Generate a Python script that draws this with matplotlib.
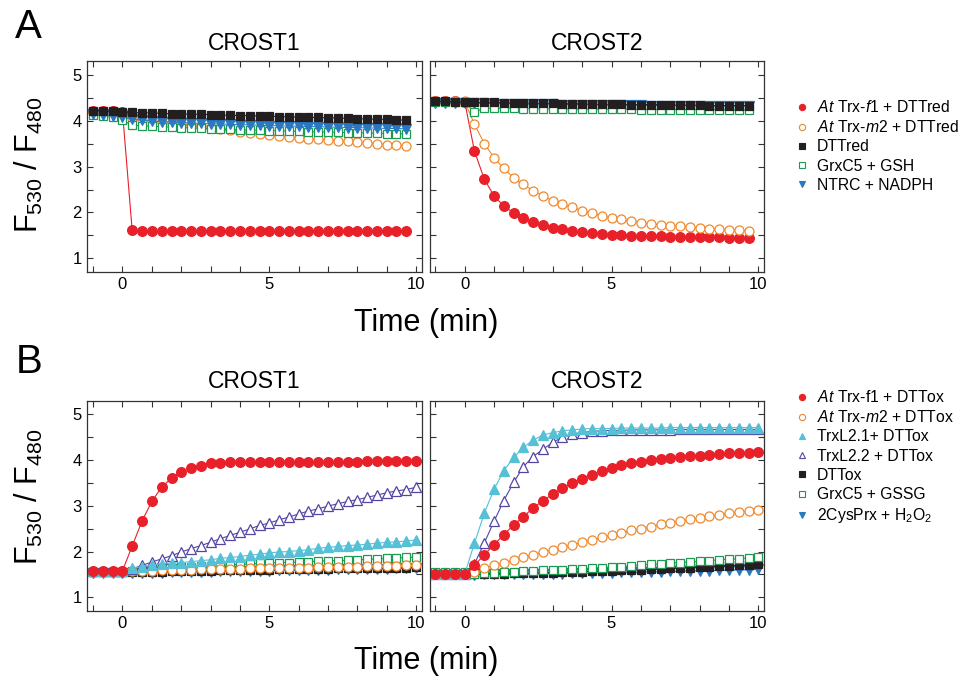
import matplotlib
matplotlib.use("Agg")
import matplotlib.pyplot as plt
from matplotlib.lines import Line2D
from matplotlib.ticker import MultipleLocator

plt.rcParams['font.family'] = ['Liberation Sans', 'DejaVu Sans']
plt.rcParams['mathtext.fontset'] = 'custom'
plt.rcParams['mathtext.rm'] = 'Liberation Sans'
plt.rcParams['mathtext.it'] = 'Liberation Sans:italic'
plt.rcParams['mathtext.bf'] = 'Liberation Sans:bold'

# time points (min), 20 s sampling
time_a = [-1.0, -0.67, -0.33, 0.0, 0.33, 0.67, 1.0, 1.33, 1.67, 2.0, 2.33, 2.67,
          3.0, 3.33, 3.67, 4.0, 4.33, 4.67, 5.0, 5.33, 5.67, 6.0, 6.33, 6.67,
          7.0, 7.33, 7.67, 8.0, 8.33, 8.67, 9.0, 9.33, 9.67]
time_b = time_a + [10.0]

# ---- panel A, CROST1 (reduction)
a1_trx_f1 = [4.20, 4.20, 4.20, 4.19, 1.61, 1.60, 1.60, 1.60, 1.60, 1.60, 1.60,
             1.60, 1.60, 1.60, 1.60, 1.60, 1.60, 1.60, 1.60, 1.60, 1.60, 1.60,
             1.60, 1.60, 1.60, 1.60, 1.60, 1.60, 1.60, 1.60, 1.60, 1.60, 1.60]
a1_trx_m2 = [4.18, 4.16, 4.14, 4.10, 4.05, 4.02, 3.99, 3.97, 3.95, 3.93, 3.90,
             3.88, 3.85, 3.82, 3.79, 3.76, 3.73, 3.71, 3.69, 3.67, 3.65, 3.63,
             3.61, 3.60, 3.58, 3.56, 3.55, 3.53, 3.52, 3.50, 3.48, 3.47, 3.45]
a1_dtt = [4.22, 4.21, 4.20, 4.19, 4.18, 4.17, 4.17, 4.16, 4.15, 4.15, 4.14,
          4.14, 4.13, 4.12, 4.12, 4.11, 4.11, 4.10, 4.10, 4.09, 4.08, 4.08,
          4.07, 4.07, 4.06, 4.06, 4.05, 4.04, 4.04, 4.03, 4.03, 4.02, 4.01]
a1_grx = [4.12, 4.10, 4.07, 4.01, 3.90, 3.89, 3.88, 3.87, 3.86, 3.85, 3.84,
          3.83, 3.82, 3.82, 3.81, 3.80, 3.80, 3.79, 3.78, 3.78, 3.77, 3.77,
          3.76, 3.76, 3.75, 3.75, 3.74, 3.74, 3.73, 3.73, 3.72, 3.72, 3.71]
a1_ntrc = [4.15, 4.13, 4.11, 4.08, 4.03, 4.01, 3.99, 3.98, 3.97, 3.96, 3.95,
           3.94, 3.93, 3.93, 3.92, 3.91, 3.91, 3.90, 3.89, 3.89, 3.88, 3.88,
           3.87, 3.87, 3.86, 3.86, 3.85, 3.85, 3.84, 3.84, 3.83, 3.83, 3.82]

# ---- panel A, CROST2
a2_trx_f1 = [4.42, 4.42, 4.42, 4.41, 3.34, 2.72, 2.36, 2.14, 1.99, 1.87, 1.80,
             1.72, 1.67, 1.63, 1.60, 1.57, 1.55, 1.53, 1.52, 1.50, 1.49, 1.49,
             1.48, 1.48, 1.47, 1.47, 1.47, 1.46, 1.46, 1.46, 1.45, 1.45, 1.45]
a2_trx_m2 = [4.43, 4.43, 4.43, 4.42, 3.92, 3.50, 3.19, 2.96, 2.75, 2.61, 2.47,
             2.36, 2.25, 2.18, 2.11, 2.04, 1.98, 1.93, 1.88, 1.85, 1.81, 1.78,
             1.75, 1.73, 1.71, 1.70, 1.68, 1.67, 1.65, 1.64, 1.62, 1.61, 1.60]
a2_dtt = [4.42, 4.42, 4.41, 4.41, 4.40, 4.40, 4.40, 4.39, 4.39, 4.39, 4.38,
          4.38, 4.38, 4.37, 4.37, 4.37, 4.36, 4.36, 4.36, 4.36, 4.35, 4.35,
          4.35, 4.35, 4.34, 4.34, 4.34, 4.34, 4.33, 4.33, 4.33, 4.33, 4.33]
a2_grx = [4.41, 4.41, 4.40, 4.40, 4.19, 4.27, 4.27, 4.27, 4.27, 4.26, 4.26,
          4.26, 4.26, 4.26, 4.25, 4.25, 4.25, 4.25, 4.25, 4.25, 4.25, 4.24,
          4.24, 4.24, 4.24, 4.24, 4.24, 4.24, 4.24, 4.24, 4.23, 4.23, 4.23]
a2_ntrc = [4.39, 4.39, 4.39, 4.38, 4.38, 4.38, 4.37, 4.37, 4.37, 4.36, 4.36,
           4.36, 4.36, 4.35, 4.35, 4.35, 4.35, 4.34, 4.34, 4.34, 4.34, 4.34,
           4.33, 4.33, 4.33, 4.33, 4.33, 4.32, 4.32, 4.32, 4.32, 4.32, 4.32]

# ---- panel B, CROST1 (oxidation)
b1_trx_f1 = [1.57, 1.57, 1.57, 1.58, 2.12, 2.67, 3.09, 3.40, 3.60, 3.74, 3.83,
             3.87, 3.92, 3.93, 3.94, 3.95, 3.95, 3.95, 3.96, 3.96, 3.96, 3.96,
             3.96, 3.96, 3.96, 3.96, 3.96, 3.96, 3.97, 3.97, 3.97, 3.97, 3.97, 3.97]
b1_trx_m2 = [1.56, 1.56, 1.56, 1.57, 1.57, 1.58, 1.58, 1.59, 1.59, 1.60, 1.60,
             1.61, 1.61, 1.62, 1.62, 1.62, 1.63, 1.63, 1.64, 1.64, 1.65, 1.65,
             1.65, 1.66, 1.66, 1.67, 1.67, 1.67, 1.68, 1.68, 1.69, 1.69, 1.70, 1.70]
b1_trxl21 = [1.57, 1.57, 1.57, 1.57, 1.64, 1.67, 1.71, 1.73, 1.75, 1.76, 1.78,
             1.80, 1.82, 1.85, 1.87, 1.89, 1.92, 1.94, 1.97, 1.99, 2.00, 2.02,
             2.04, 2.07, 2.09, 2.11, 2.13, 2.14, 2.16, 2.18, 2.20, 2.21, 2.23, 2.25]
b1_trxl22 = [1.57, 1.57, 1.57, 1.57, 1.62, 1.70, 1.77, 1.84, 1.91, 1.99, 2.06,
             2.13, 2.20, 2.28, 2.35, 2.42, 2.49, 2.57, 2.62, 2.69, 2.75, 2.82,
             2.88, 2.93, 2.99, 3.04, 3.09, 3.13, 3.18, 3.23, 3.28, 3.32, 3.35, 3.40]
b1_dtt = [1.55, 1.55, 1.55, 1.55, 1.55, 1.55, 1.56, 1.56, 1.57, 1.57, 1.57,
          1.58, 1.58, 1.59, 1.59, 1.59, 1.60, 1.60, 1.60, 1.61, 1.61, 1.61,
          1.62, 1.62, 1.62, 1.63, 1.63, 1.63, 1.64, 1.64, 1.64, 1.65, 1.65, 1.66]
b1_grx = [1.55, 1.55, 1.56, 1.56, 1.58, 1.60, 1.62, 1.63, 1.65, 1.66, 1.67,
          1.68, 1.69, 1.70, 1.71, 1.72, 1.73, 1.74, 1.75, 1.76, 1.76, 1.77,
          1.78, 1.79, 1.80, 1.80, 1.81, 1.82, 1.83, 1.84, 1.85, 1.86, 1.87, 1.88]
b1_prx = [1.53, 1.53, 1.53, 1.53, 1.53, 1.53, 1.54, 1.54, 1.55, 1.55, 1.55,
          1.56, 1.56, 1.57, 1.57, 1.57, 1.58, 1.58, 1.58, 1.59, 1.59, 1.59,
          1.60, 1.60, 1.60, 1.61, 1.61, 1.61, 1.62, 1.62, 1.62, 1.63, 1.63, 1.64]

# ---- panel B, CROST2
b2_trx_f1 = [1.51, 1.51, 1.51, 1.51, 1.70, 1.93, 2.15, 2.37, 2.58, 2.76, 2.95,
             3.11, 3.25, 3.38, 3.49, 3.59, 3.67, 3.76, 3.82, 3.88, 3.92, 3.96,
             3.99, 4.02, 4.04, 4.07, 4.08, 4.09, 4.11, 4.12, 4.14, 4.14, 4.15, 4.16]
b2_trx_m2 = [1.52, 1.52, 1.52, 1.52, 1.55, 1.64, 1.70, 1.75, 1.82, 1.88, 1.93,
             1.99, 2.04, 2.09, 2.15, 2.20, 2.25, 2.31, 2.36, 2.41, 2.46, 2.49,
             2.54, 2.59, 2.62, 2.66, 2.70, 2.73, 2.77, 2.80, 2.83, 2.86, 2.88, 2.91]
b2_trxl21 = [1.51, 1.51, 1.51, 1.51, 2.18, 2.84, 3.36, 3.76, 4.05, 4.27, 4.43,
             4.54, 4.59, 4.63, 4.65, 4.67, 4.68, 4.68, 4.68, 4.69, 4.69, 4.69,
             4.69, 4.69, 4.70, 4.70, 4.70, 4.70, 4.70, 4.70, 4.70, 4.70, 4.70, 4.70]
b2_trxl22 = [1.51, 1.51, 1.51, 1.51, 1.73, 2.19, 2.66, 3.11, 3.51, 3.85, 4.07,
             4.23, 4.38, 4.49, 4.56, 4.59, 4.62, 4.63, 4.64, 4.64, 4.65, 4.65,
             4.65, 4.65, 4.65, 4.66, 4.66, 4.66, 4.66, 4.66, 4.66, 4.66, 4.66, 4.66]
b2_dtt = [1.52, 1.52, 1.52, 1.52, 1.51, 1.52, 1.52, 1.52, 1.53, 1.53, 1.53,
          1.54, 1.54, 1.55, 1.55, 1.56, 1.57, 1.57, 1.58, 1.59, 1.60, 1.60,
          1.61, 1.62, 1.63, 1.64, 1.65, 1.66, 1.67, 1.68, 1.69, 1.70, 1.71, 1.72]
b2_grx = [1.55, 1.55, 1.55, 1.55, 1.51, 1.53, 1.54, 1.55, 1.56, 1.57, 1.57,
          1.59, 1.59, 1.60, 1.62, 1.62, 1.64, 1.65, 1.66, 1.67, 1.69, 1.71,
          1.72, 1.73, 1.75, 1.76, 1.77, 1.79, 1.80, 1.82, 1.83, 1.84, 1.86, 1.88]
b2_prx = [1.50, 1.50, 1.50, 1.50, 1.49, 1.50, 1.50, 1.50, 1.51, 1.51, 1.51,
          1.52, 1.52, 1.52, 1.53, 1.53, 1.53, 1.54, 1.54, 1.55, 1.55, 1.55,
          1.56, 1.56, 1.57, 1.57, 1.58, 1.58, 1.58, 1.59, 1.59, 1.60, 1.60, 1.61]

RED = '#e8202a'
ORANGE = '#f0892c'
BLACK = '#231f20'
GREEN = '#1c9a52'
BLUE = '#2a78c2'
CYAN = '#55c0d6'
PURPLE = '#5346a3'

STYLE = {
    'f1': dict(color=RED, marker='o', mfc=RED, mec=RED, ms=7),
    'm2': dict(color=ORANGE, marker='o', mfc='white', mec=ORANGE, ms=6.5),
    'dtt': dict(color=BLACK, marker='s', mfc=BLACK, mec=BLACK, ms=5.8),
    'grx': dict(color=GREEN, marker='s', mfc='white', mec=GREEN, ms=6),
    'blue': dict(color=BLUE, marker='v', mfc=BLUE, mec=BLUE, ms=6.5),
    'l21': dict(color=CYAN, marker='^', mfc=CYAN, mec=CYAN, ms=6.5),
    'l22': dict(color=PURPLE, marker='^', mfc='white', mec=PURPLE, ms=6.5),
}


def draw(ax, t, series):
    for key, y in series:
        ax.plot(t, y, lw=0.8, mew=0.9, **STYLE[key])


def style_axes(ax, show_y):
    ax.set_xlim(-1.2, 10.2)
    ax.set_ylim(0.71, 5.29)
    ax.xaxis.set_major_locator(MultipleLocator(5))
    ax.xaxis.set_minor_locator(MultipleLocator(1))
    ax.yaxis.set_major_locator(MultipleLocator(1))
    ax.yaxis.set_minor_locator(MultipleLocator(0.5))
    ax.tick_params(which='both', direction='in', top=True, right=True,
                   length=4, width=0.8, color='#333333', labelsize=12, pad=4)
    if not show_y:
        ax.tick_params(labelleft=False)
    for s in ax.spines.values():
        s.set_linewidth(0.9)
        s.set_color('#333333')


def legend(fig, keys, labels, top):
    handles = []
    for k in keys:
        st = STYLE[k]
        handles.append(Line2D([], [], linestyle='none', marker=st['marker'],
                              mfc=st['mfc'], mec=st['mec'], ms=4.5, mew=0.8))
    fig.legend(handles, labels, loc='upper left', bbox_to_anchor=(0.827, top),
               frameon=False, fontsize=11.3, handlelength=1.0, handletextpad=0.45,
               labelspacing=0.27, borderpad=0, borderaxespad=0)


fig = plt.figure(figsize=(9.6, 6.77), dpi=100)
w, h = 0.3486, 0.3105
axA1 = fig.add_axes([0.0909, 0.5987, w, h])
axA2 = fig.add_axes([0.4474, 0.5987, w, h])
axB1 = fig.add_axes([0.0909, 0.0979, w, h])
axB2 = fig.add_axes([0.4474, 0.0979, w, h])

draw(axA1, time_a, [('f1', a1_trx_f1), ('m2', a1_trx_m2), ('grx', a1_grx),
                    ('blue', a1_ntrc), ('dtt', a1_dtt)])
draw(axA2, time_a, [('f1', a2_trx_f1), ('m2', a2_trx_m2), ('blue', a2_ntrc),
                    ('grx', a2_grx), ('dtt', a2_dtt)])
draw(axB1, time_b, [('blue', b1_prx), ('dtt', b1_dtt), ('grx', b1_grx),
                    ('m2', b1_trx_m2), ('l22', b1_trxl22), ('l21', b1_trxl21),
                    ('f1', b1_trx_f1)])
draw(axB2, time_b, [('blue', b2_prx), ('dtt', b2_dtt), ('grx', b2_grx),
                    ('m2', b2_trx_m2), ('l22', b2_trxl22), ('l21', b2_trxl21),
                    ('f1', b2_trx_f1)])

for ax, title, show_y, pad in [(axA1, 'CROST1', True, 8), (axA2, 'CROST2', False, 8),
                               (axB1, 'CROST1', True, 9), (axB2, 'CROST2', False, 9)]:
    style_axes(ax, show_y)
    ax.set_title(title, fontsize=16.5, pad=pad)

xc = 0.4436
fig.text(xc, 1 - 323 / 677, 'Time (min)', fontsize=22, ha='center', va='center')
fig.text(xc, 1 - 661 / 677, 'Time (min)', fontsize=22, ha='center', va='center')
ylab = 'F$_{530}$ / F$_{480}$'
fig.text(0.030, 1 - 165 / 677, ylab, fontsize=22, rotation=90, ha='center', va='center')
fig.text(0.030, 1 - 497 / 677, ylab, fontsize=22, rotation=90, ha='center', va='center')
fig.text(0.030, 1 - 27 / 677, 'A', fontsize=29, ha='center', va='center')
fig.text(0.030, 1 - 362 / 677, 'B', fontsize=29, ha='center', va='center')

legend(fig, ['f1', 'm2', 'dtt', 'grx', 'blue'],
       [r'$\mathit{At}$ Trx-$\mathit{f1}$ + DTTred',
        r'$\mathit{At}$ Trx-$\mathit{m2}$ + DTTred',
        'DTTred', 'GrxC5 + GSH', 'NTRC + NADPH'],
       1 - 99 / 677)
legend(fig, ['f1', 'm2', 'l21', 'l22', 'dtt', 'grx', 'blue'],
       [r'$\mathit{At}$ Trx-f1 + DTTox',
        r'$\mathit{At}$ Trx-$\mathit{m2}$ + DTTox',
        'TrxL2.1+ DTTox', 'TrxL2.2 + DTTox', 'DTTox', 'GrxC5 + GSSG',
        '2CysPrx + H$_2$O$_2$'],
       1 - 389 / 677)

fig.savefig('out.png', dpi=100)
